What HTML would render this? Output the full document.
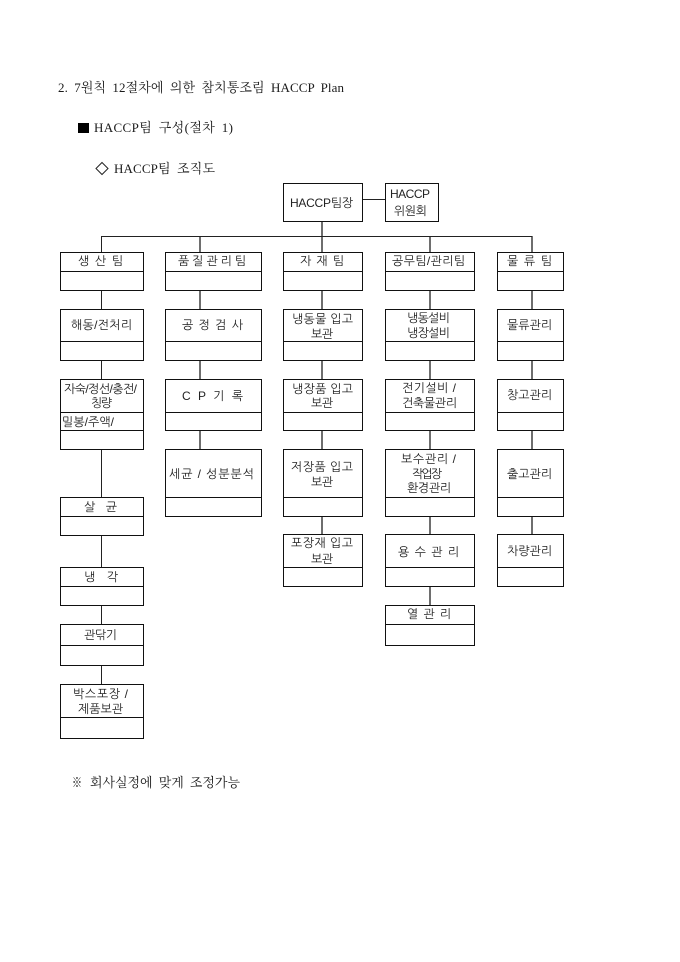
<!DOCTYPE html>
<html lang="ko">
<head>
<meta charset="utf-8">
<style>
html,body{margin:0;padding:0;background:#fff;}
svg{display:block;}
.h{font-family:"Liberation Serif","Noto Serif CJK SC","Noto Serif CJK KR",serif;font-size:13px;fill:#1a1a1a;word-spacing:3px;}
.t{font-family:"Liberation Sans","NanumGothic","Noto Sans CJK KR",sans-serif;font-size:12px;fill:#222;}
.b{fill:none;stroke:#111;stroke-width:1;shape-rendering:crispEdges;}
.c{fill:none;stroke:#6e6e6e;stroke-width:2;shape-rendering:crispEdges;}
.k{fill:none;stroke:#222;stroke-width:1;shape-rendering:crispEdges;}
</style>
</head>
<body>
<svg xmlns="http://www.w3.org/2000/svg" width="680" height="962" viewBox="0 0 680 962">
<rect width="680" height="962" fill="#fff"/>

<text class="h" x="58" y="92" textLength="286" lengthAdjust="spacing">2. 7원칙 12절차에 의한 참치통조림 HACCP Plan</text>
<rect x="78" y="123" width="11" height="10" fill="#000"/>
<text class="h" x="94" y="132" textLength="139" lengthAdjust="spacing">HACCP팀 구성(절차 1)</text>
<path d="M102 162.500L108 168.500L102 174.500L96 168.500Z" fill="none" stroke="#222" stroke-width="1"/>
<text class="h" x="114" y="173" textLength="101" lengthAdjust="spacing">HACCP팀 조직도</text>
<text class="h" x="72" y="787" textLength="10" lengthAdjust="spacingAndGlyphs" font-weight="bold">※</text>
<text class="h" x="90" y="787" textLength="150" lengthAdjust="spacing">회사실정에 맞게 조정가능</text>

<!-- connectors -->
<path class="c" d="M322 221V252 M200 236V252 M430 236V252 M532 236V252
M200 290V309 M200 360V379 M200 430V449
M322 290V309 M322 360V379 M322 430V449 M322 516V534
M430 290V309 M430 360V379 M430 430V449 M430 516V534 M430 586V605
M532 290V309 M532 360V379 M532 430V449 M532 516V534"/>
<path class="k" d="M101.500 236.500H532 M101.500 236V252 M362 199.500H385
M101.500 290V309 M101.500 360V379 M101.500 449V497 M101.500 535V567 M101.500 605V624 M101.500 665V684"/>

<!-- boxes -->
<path class="b" d="
M283.500 183.500H362.500V221.500H283.500Z
M385.500 183.500H438.500V221.500H385.500Z
M60.500 252.500H143.500V290.500H60.500Z M60.500 271.500H143.500
M165.500 252.500H261.500V290.500H165.500Z M165.500 271.500H261.500
M283.500 252.500H362.500V290.500H283.500Z M283.500 271.500H362.500
M385.500 252.500H474.500V290.500H385.500Z M385.500 271.500H474.500
M497.500 252.500H563.500V290.500H497.500Z M497.500 271.500H563.500
M60.500 309.500H143.500V360.500H60.500Z M60.500 341.500H143.500
M165.500 309.500H261.500V360.500H165.500Z M165.500 341.500H261.500
M283.500 309.500H362.500V360.500H283.500Z M283.500 341.500H362.500
M385.500 309.500H474.500V360.500H385.500Z M385.500 341.500H474.500
M497.500 309.500H563.500V360.500H497.500Z M497.500 341.500H563.500
M60.500 379.500H143.500V449.500H60.500Z M60.500 412.500H143.500 M60.500 430.500H143.500
M165.500 379.500H261.500V430.500H165.500Z M165.500 412.500H261.500
M283.500 379.500H362.500V430.500H283.500Z M283.500 412.500H362.500
M385.500 379.500H474.500V430.500H385.500Z M385.500 412.500H474.500
M497.500 379.500H563.500V430.500H497.500Z M497.500 412.500H563.500
M165.500 449.500H261.500V516.500H165.500Z M165.500 497.500H261.500
M283.500 449.500H362.500V516.500H283.500Z M283.500 497.500H362.500
M385.500 449.500H474.500V516.500H385.500Z M385.500 497.500H474.500
M497.500 449.500H563.500V516.500H497.500Z M497.500 497.500H563.500
M60.500 497.500H143.500V535.500H60.500Z M60.500 516.500H143.500
M283.500 534.500H362.500V586.500H283.500Z M283.500 567.500H362.500
M385.500 534.500H474.500V586.500H385.500Z M385.500 567.500H474.500
M497.500 534.500H563.500V586.500H497.500Z M497.500 567.500H563.500
M60.500 567.500H143.500V605.500H60.500Z M60.500 586.500H143.500
M385.500 605.500H474.500V645.500H385.500Z M385.500 624.500H474.500
M60.500 624.500H143.500V665.500H60.500Z M60.500 645.500H143.500
M60.500 684.500H143.500V738.500H60.500Z M60.500 717.500H143.500
"/>

<!-- labels -->
<g class="t" transform="translate(0,1)">
<text class="t" x="290" y="206" textLength="63">HACCP팀장</text>
<text class="t" x="390" y="197" textLength="40">HACCP</text>
<text class="t" x="394" y="214" textLength="33">위원회</text>

<text class="t" x="78" y="264" textLength="45">생 산 팀</text>
<text class="t" x="178" y="264" textLength="68">품질관리팀</text>
<text class="t" x="300" y="264" textLength="44">자 재 팀</text>
<text class="t" x="392" y="264" textLength="73">공무팀/관리팀</text>
<text class="t" x="507" y="264" textLength="45">물 류 팀</text>

<text class="t" x="71" y="328" textLength="61">해동/전처리</text>
<text class="t" x="182" y="328" textLength="61">공 정 검 사</text>
<text class="t" x="292" y="322" textLength="61">냉동물 입고</text>
<text class="t" x="311" y="337" textLength="22">보관</text>
<text class="t" x="407" y="321" textLength="43">냉동설비</text>
<text class="t" x="407" y="336" textLength="43">냉장설비</text>
<text class="t" x="507" y="328" textLength="45">물류관리</text>

<text class="t" x="64" y="392" textLength="73">자숙/정선/충전/</text>
<text class="t" x="91" y="406" textLength="21">칭량</text>
<text class="t" x="62" y="425" textLength="52">밀봉/주액/</text>
<text class="t" x="182" y="399" textLength="61">C P  기 록</text>
<text class="t" x="292" y="392" textLength="61">냉장품 입고</text>
<text class="t" x="311" y="406" textLength="22">보관</text>
<text class="t" x="402" y="391" textLength="54">전기설비 /</text>
<text class="t" x="402" y="406" textLength="55">건축물관리</text>
<text class="t" x="507" y="398" textLength="45">창고관리</text>

<text class="t" x="169" y="477" textLength="85">세균 / 성분분석</text>
<text class="t" x="291" y="470" textLength="62">저장품 입고</text>
<text class="t" x="311" y="485" textLength="22">보관</text>
<text class="t" x="401" y="462" textLength="55">보수관리 /</text>
<text class="t" x="412" y="477" textLength="30">작업장</text>
<text class="t" x="407" y="491" textLength="44">환경관리</text>
<text class="t" x="507" y="477" textLength="45">출고관리</text>

<text class="t" x="84" y="510" textLength="33">살  균</text>
<text class="t" x="291" y="546" textLength="62">포장재 입고</text>
<text class="t" x="311" y="562" textLength="22">보관</text>
<text class="t" x="398" y="555" textLength="61">용 수 관 리</text>
<text class="t" x="507" y="554" textLength="45">차량관리</text>

<text class="t" x="84" y="580" textLength="34">냉  각</text>
<text class="t" x="407" y="617" textLength="44">열 관 리</text>
<text class="t" x="84" y="638" textLength="33">관닦기</text>
<text class="t" x="73" y="697" textLength="55">박스포장 /</text>
<text class="t" x="78" y="712" textLength="45">제품보관</text>
</g>
</svg>
</body>
</html>
